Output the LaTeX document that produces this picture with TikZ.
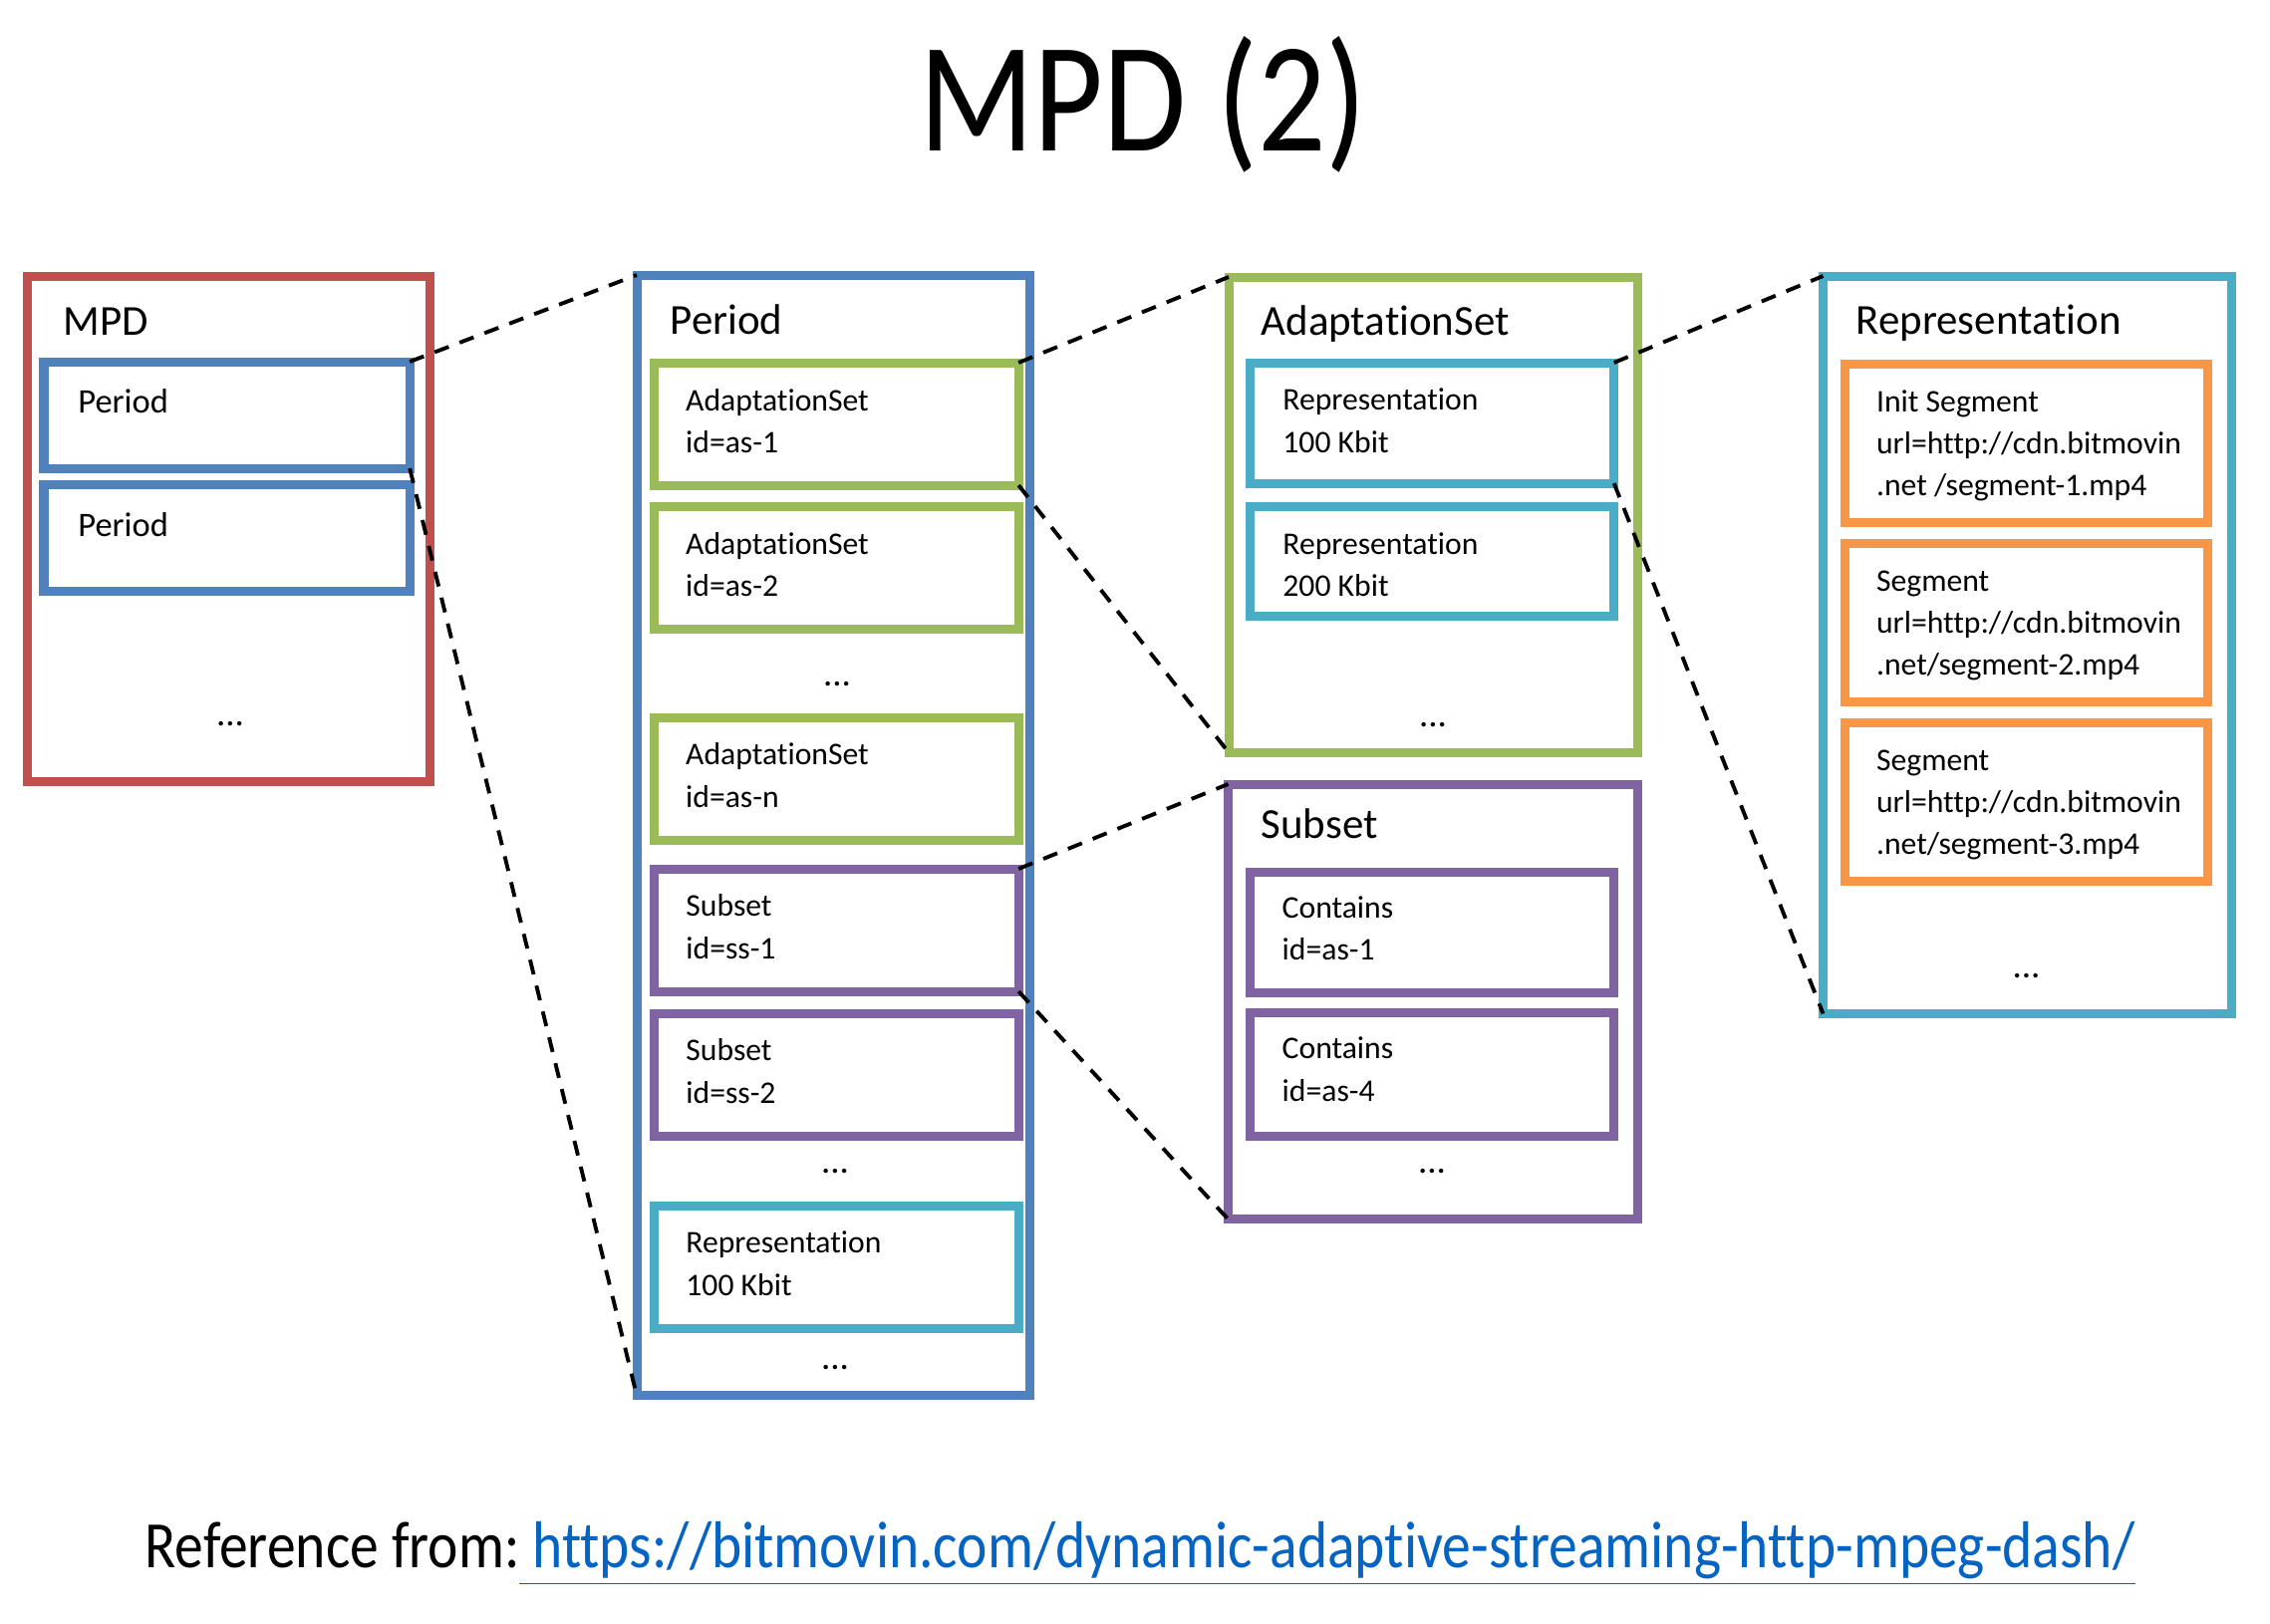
\documentclass[tikz,border=0pt]{standalone}
\usepackage{fontspec}
\usepackage{graphicx}
\setmainfont[Ligatures=NoCommon]{Carlito}
\usetikzlibrary{decorations.pathmorphing}

\definecolor{mpdred}{HTML}{C0504D}
\definecolor{perblue}{HTML}{4F81BD}
\definecolor{asgreen}{HTML}{9BBB59}
\definecolor{sspurple}{HTML}{8064A2}
\definecolor{repaqua}{HTML}{4BACC6}
\definecolor{segorange}{HTML}{F79646}
\definecolor{urlblue}{HTML}{0563C1}

\newcommand{\boxfont}{\fontsize{12.2}{14}\selectfont}
\newcommand{\itemfont}{\fontsize{9}{11.95}\selectfont}
\newlength{\wavelen}

\tikzset{
	boxframe/.style={draw=#1, line width=2.56pt, rectangle, inner sep=0pt, outer sep=0pt, anchor=north west},
	boxtitle/.style={anchor=base west, inner sep=0pt, font=\boxfont},
	item/.style={anchor=base west, inner sep=0pt, align=left, font=\itemfont},
	dots/.style={anchor=base, inner sep=0pt, font=\fontsize{10.5}{12}\selectfont},
	zoomline/.style={dash pattern=on 4.3pt off 3.3pt, line width=1.1pt},
	wavy/.style={draw=red, line width=0.45pt, decorate, decoration={snake, amplitude=0.45pt, segment length=1.8pt}}
}

\begin{document}
\begin{tikzpicture}[x=0.01cm, y=-0.01cm]
	\useasboundingbox (0,0) rectangle (2278,1630);

	\node[anchor=base, inner sep=0pt, font=\fontsize{44.7}{50}\selectfont] (title) at (1147,151) {\scalebox{0.86}[1]{MPD (2)}};

	% MPD
	\node[boxframe=mpdred, minimum width=4.04cm, minimum height=5.07cm] (mpd) at (27.5,277) {};
	\node[boxtitle] (mpdt) at (62.7,336) {MPD};
	\node[boxframe=perblue, minimum width=3.67cm, minimum height=1.07cm] (per1) at (44,363) {};
	\node[boxframe=perblue, minimum width=3.67cm, minimum height=1.07cm] (per2) at (44,486) {};
	\node[anchor=base west, inner sep=0pt, font=\fontsize{9.8}{12}\selectfont] (per1t) at (77.7,414) {Period};
	\node[anchor=base west, inner sep=0pt, font=\fontsize{9.8}{12}\selectfont] (per2t) at (77.7,538) {Period};
	\node[dots] (mpddots) at (231,728) {...};

	% Period
	\node[boxframe=perblue, minimum width=3.94cm, minimum height=11.24cm] (period) at (639,276) {};
	\node[boxtitle] (periodt) at (672,335) {Period};
	\node[boxframe=asgreen, minimum width=3.66cm, minimum height=1.23cm] (as1) at (656,364) {};
	\node[boxframe=asgreen, minimum width=3.66cm, minimum height=1.23cm] (as2) at (656,508) {};
	\node[boxframe=asgreen, minimum width=3.66cm, minimum height=1.23cm] (asn) at (656,720) {};
	\node[boxframe=sspurple, minimum width=3.66cm, minimum height=1.23cm] (ss1) at (656,872) {};
	\node[boxframe=sspurple, minimum width=3.66cm, minimum height=1.23cm] (ss2) at (656,1017) {};
	\node[boxframe=repaqua, minimum width=3.66cm, minimum height=1.23cm] (rep) at (656,1210) {};
	% anchors at the baseline of the last line
	\node[item] (as1t) at (687.5,454.6) {AdaptationSet\\id=as-1};
	\node[item] (as2t) at (687.5,598.6) {AdaptationSet\\id=as-2};
	\node[item] (asnt) at (687.5,810) {AdaptationSet\\id=as-n};
	\node[item] (ss1t) at (687.7,962) {Subset\\id=ss-1};
	\node[item] (ss2t) at (687.7,1107) {Subset\\id=ss-2};
	\node[item] (rept) at (687.7,1300) {Representation\\100 Kbit};
	\node[dots] (perdots1) at (840,688) {...};
	\node[dots] (perdots2) at (838,1177) {...};
	\node[dots] (perdots3) at (838,1374) {...};

	% AdaptationSet
	\node[boxframe=asgreen, minimum width=4.10cm, minimum height=4.77cm] (adapt) at (1233,278) {};
	\node[boxtitle] (adaptt) at (1265,336.7) {AdaptationSet};
	\node[boxframe=repaqua, minimum width=3.65cm, minimum height=1.21cm] (rep1) at (1254.5,364) {};
	\node[boxframe=repaqua, minimum width=3.65cm, minimum height=1.10cm] (rep2) at (1254.5,508.7) {};
	\node[item] (rep1t) at (1286.7,454) {Representation\\100 Kbit};
	\node[item] (rep2t) at (1286.7,598.7) {Representation\\200 Kbit};
	\node[dots] (adaptdots) at (1438,729) {...};

	% Subset
	\node[boxframe=sspurple, minimum width=4.11cm, minimum height=4.365cm] (subset) at (1232.5,787) {};
	\node[boxtitle] (subsett) at (1265,841.5) {Subset};
	\node[boxframe=sspurple, minimum width=3.65cm, minimum height=1.21cm] (con1) at (1254,875) {};
	\node[boxframe=sspurple, minimum width=3.65cm, minimum height=1.245cm] (con2) at (1254,1016) {};
	\node[item] (con1t) at (1286,963.5) {Contains\\id=as-1};
	\node[item] (con2t) at (1286,1105) {Contains\\id=as-4};
	\node[dots] (subsetdots) at (1437,1177) {...};

	% Representation
	\node[boxframe=repaqua, minimum width=4.10cm, minimum height=7.40cm] (repr) at (1829.5,277) {};
	\node[boxtitle] (reprt) at (1862,335.7) {Representation};
	\node[boxframe=segorange, minimum width=3.636cm, minimum height=1.59cm] (seg1) at (1851.4,365) {};
	\node[boxframe=segorange, minimum width=3.636cm, minimum height=1.59cm] (seg2) at (1851.4,545) {};
	\node[boxframe=segorange, minimum width=3.636cm, minimum height=1.59cm] (seg3) at (1851.4,725.5) {};
	\node[item] (seg1t) at (1882.4,497.7) {Init Segment\\url=http://cdn.bitmovin\\.net /segment-1.mp4};
	\node[item] (seg2t) at (1882.4,677.4) {Segment\\url=http://cdn.bitmovin\\.net/segment-2.mp4};
	\node[item] (seg3t) at (1882.4,857.4) {Segment\\url=http://cdn.bitmovin\\.net/segment-3.mp4};
	\node[dots] (reprdots) at (2033.5,981.5) {...};

	% spell-check marks
	\settowidth{\wavelen}{\itemfont AdaptationSet}
	\foreach \t in {as1t, as2t, asnt}
		\draw[wavy] ([yshift=10.5pt]\t.base west) -- ++(\wavelen,0);
	\settowidth{\wavelen}{\itemfont url}
	\foreach \t in {seg1t, seg2t, seg3t}
		\draw[wavy] ([yshift=10.5pt]\t.base west) -- ++(\wavelen,0);

	% zoom lines
	\draw[zoomline] (per1.north east) -- (period.north west);
	\draw[zoomline] (per1.south east) -- (period.south west);
	\draw[zoomline] (as1.north east) -- (adapt.north west);
	\draw[zoomline] (as1.south east) -- (adapt.south west);
	\draw[zoomline] (ss1.north east) -- (subset.north west);
	\draw[zoomline] (ss1.south east) -- (subset.south west);
	\draw[zoomline] (rep1.north east) -- (repr.north west);
	\draw[zoomline] (rep1.south east) -- (repr.south west);

	\node[anchor=base west, inner sep=0pt, font=\fontsize{18.9}{22}\selectfont] (source) at (145,1573) {\scalebox{0.866}[1]{Reference from:\textcolor{urlblue}{\underline{\ https://bitmovin.com/dynamic-adaptive-streaming-http-mpeg-dash/}}}};
\end{tikzpicture}
\end{document}
